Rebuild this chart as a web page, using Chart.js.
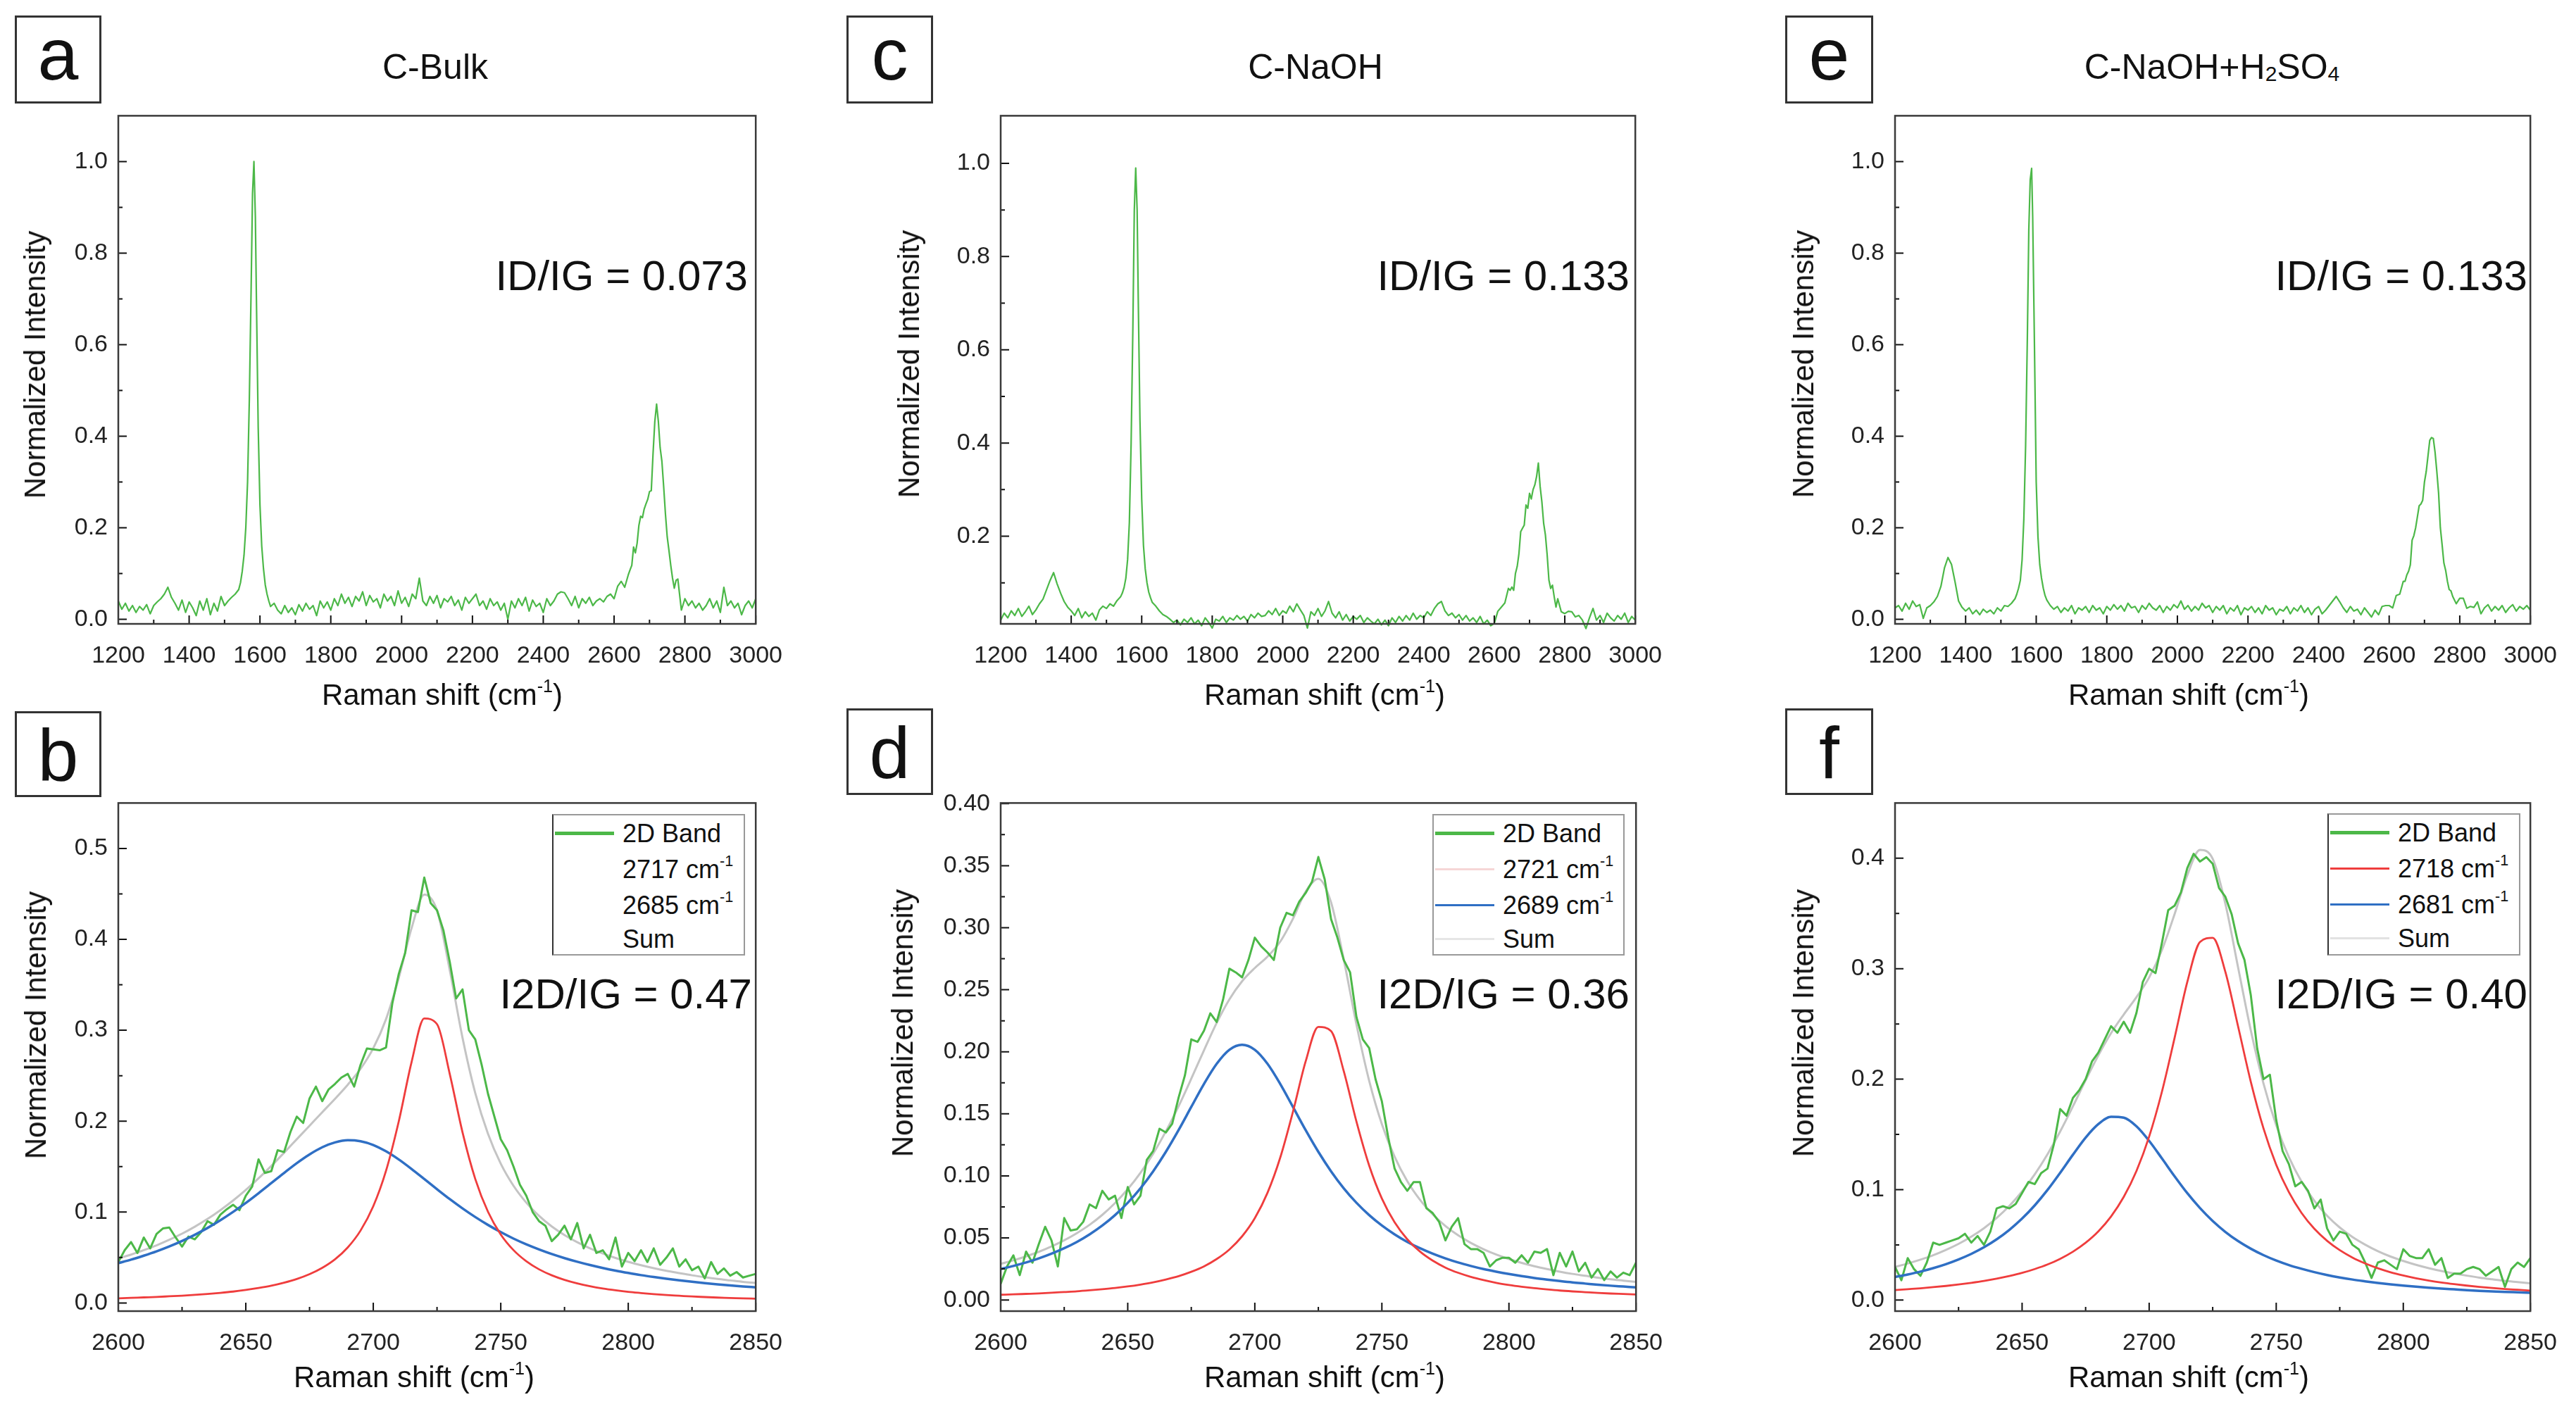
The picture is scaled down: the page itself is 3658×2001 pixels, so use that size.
<!DOCTYPE html>
<html>
<head>
<meta charset="utf-8">
<title>Raman spectra of carbon samples</title>
<script src="https://cdn.jsdelivr.net/npm/chart.js"></script>
<style>
  html, body { margin: 0; background: #fff; }
  #fig { position: relative; width: 3658px; height: 2001px; overflow: hidden;
         font-family: 'Liberation Sans', Arial, sans-serif; color: #111; }
  #fig canvas { position: absolute; }
  .txt { position: absolute; white-space: nowrap; line-height: 1; }
  .ytitle { position: absolute; white-space: nowrap; line-height: 1; transform: translate(-50%, -50%) rotate(-90deg); }
  .box { position: absolute; border: 3px solid #333; box-sizing: border-box; }
  .legend { position: absolute; background: #fff; box-sizing: border-box; border: 2px solid #999; }
  .swatch { position: absolute; }
  .sup { font-size: 0.6em; position: relative; top: -0.75em; }
  .sub { font-size: 0.6em; position: relative; top: 0.12em; }
</style>
</head>
<body>
<div id="fig"></div>
<script>
// ---- data ----
const sampleNames = ['C-Bulk', 'C-NaOH', 'C-NaOH+H<span class="sub">2</span>SO<span class="sub">4</span>'];
const idIgRatio = ['0.073', '0.133', '0.133'];
const i2dIgRatio = ['0.47', '0.36', '0.40'];
const fitPeaksBulk = [2717, 2685];
const fitPeaksNaoh = [2721, 2689];
const fitPeaksAcid = [2718, 2681];

// full spectra (Raman shift, cm-1)
const topShift = [
  1200,1210,1220,1230,1240,1250,1260,1270,1280,1290,
  1300,1310,1320,1330,1340,1350,1360,1370,1380,1390,
  1400,1410,1420,1430,1440,1450,1460,1470,1480,1490,
  1500,1510,1520,1530,1540,
  1545,1550,1555,1560,1565,1570,1575,
  1579,1583,1587,
  1590,1595,1600,1605,1610,1615,1620,1625,1630,
  1640,1650,1660,1670,1680,1690,1700,1710,1720,1730,
  1740,1750,1760,1770,1780,1790,1800,1810,1820,1830,
  1840,1850,1860,1870,1880,1890,1900,1910,1920,1930,
  1940,1950,1960,1970,1980,1990,2000,2010,2020,2030,
  2040,2050,2060,2070,2080,2090,2100,2110,2120,2130,
  2140,2150,2160,2170,2180,2190,2200,2210,2220,2230,
  2240,2250,2260,2270,2280,2290,2300,2310,2320,2330,
  2340,2350,2360,2370,2380,2390,2400,2410,2420,2430,
  2440,2450,2460,2470,2480,2490,2500,2510,2520,2530,
  2540,2550,2560,2570,2580,2590,2600,2610,2620,2630,
  2640,2645,2650,2655,2660,2665,2670,2675,2680,2685,
  2690,2695,2700,2705,2710,2715,2720,2725,2730,2735,
  2740,2745,2750,2755,2760,2765,2770,2775,2780,
  2790,2800,2810,2820,2830,2840,2850,2860,2870,2880,
  2890,2900,2910,2920,2930,2940,2950,2960,2970,2980,
  2990,3000
];
const bulkSpectrum = [
  0.040,0.022,0.035,0.018,0.030,0.015,0.028,0.020,0.032,0.012,
  0.030,0.038,0.045,0.055,0.070,0.048,0.035,0.020,0.042,0.015,
  0.038,0.025,0.008,0.040,0.020,0.045,0.010,0.035,0.018,0.050,
  0.030,0.040,0.048,0.055,0.065,
  0.080,0.105,0.140,0.200,0.300,0.480,0.720,
  0.930,1.000,0.880,
  0.700,0.420,0.250,0.160,0.110,0.075,0.055,0.040,0.028,
  0.035,0.020,0.012,0.030,0.015,0.025,0.010,0.032,0.018,0.035,
  0.022,0.030,0.008,0.040,0.025,0.038,0.020,0.045,0.030,0.055,
  0.035,0.048,0.028,0.050,0.040,0.060,0.030,0.052,0.038,0.045,
  0.025,0.055,0.040,0.050,0.030,0.062,0.035,0.048,0.028,0.055,
  0.045,0.090,0.040,0.030,0.050,0.035,0.052,0.025,0.045,0.038,
  0.050,0.030,0.042,0.020,0.048,0.035,0.045,0.055,0.030,0.040,
  0.022,0.045,0.030,0.038,0.020,0.035,0.000,0.040,0.025,0.045,
  0.030,0.048,0.018,0.042,0.028,0.035,0.015,0.045,0.030,0.040,
  0.055,0.060,0.058,0.045,0.030,0.050,0.025,0.045,0.035,0.048,
  0.030,0.040,0.045,0.038,0.050,0.055,0.045,0.072,0.083,0.070,
  0.097,0.108,0.118,0.158,0.145,0.166,0.205,0.225,0.222,0.241,
  0.252,0.262,0.279,0.281,0.362,0.432,0.470,0.432,0.375,0.345,
  0.290,0.230,0.180,0.150,0.118,0.090,0.068,0.085,0.088,
  0.020,0.045,0.030,0.040,0.025,0.035,0.020,0.030,0.045,0.025,
  0.040,0.015,0.070,0.030,0.040,0.025,0.035,0.010,0.030,0.040,
  0.025,0.045
];
const naohSpectrum = [
  0.020,0.035,0.025,0.040,0.030,0.045,0.028,0.038,0.050,0.032,
  0.042,0.055,0.065,0.085,0.105,0.122,0.098,0.078,0.060,0.048,
  0.040,0.030,0.045,0.025,0.038,0.028,0.035,0.020,0.042,0.050,
  0.045,0.055,0.050,0.062,0.070,
  0.078,0.090,0.110,0.150,0.230,0.400,0.650,
  0.900,0.990,0.900,
  0.720,0.450,0.280,0.180,0.130,0.100,0.080,0.068,0.058,
  0.050,0.040,0.032,0.028,0.022,0.015,0.020,0.010,0.022,0.015,
  0.025,0.012,0.020,0.008,0.025,0.015,0.003,0.022,0.018,0.028,
  0.015,0.025,0.020,0.030,0.022,0.028,0.018,0.032,0.025,0.035,
  0.028,0.030,0.040,0.032,0.045,0.030,0.040,0.035,0.050,0.038,
  0.055,0.042,0.030,0.003,0.038,0.030,0.045,0.028,0.040,0.060,
  0.035,0.025,0.038,0.020,0.032,0.018,0.028,0.022,0.030,0.015,
  0.025,0.018,0.012,0.022,0.010,0.020,0.008,0.025,0.015,0.028,
  0.018,0.030,0.020,0.035,0.022,0.030,0.025,0.038,0.030,0.045,
  0.055,0.060,0.040,0.030,0.035,0.025,0.032,0.020,0.030,0.018,
  0.025,0.015,0.028,0.012,0.020,0.008,0.013,0.039,0.048,0.057,
  0.088,0.084,0.091,0.084,0.120,0.135,0.163,0.210,0.217,0.224,
  0.267,0.260,0.292,0.280,0.300,0.310,0.328,0.357,0.307,0.274,
  0.228,0.203,0.160,0.106,0.088,0.095,0.070,0.048,0.066,
  0.038,0.034,0.039,0.038,0.027,0.030,0.020,0.002,0.025,0.045,
  0.020,0.030,0.015,0.035,0.025,0.018,0.030,0.022,0.035,0.015,
  0.028,0.020
];
const acidSpectrum = [
  0.025,0.030,0.018,0.035,0.022,0.040,0.028,0.032,0.002,0.025,
  0.030,0.038,0.050,0.072,0.112,0.135,0.120,0.082,0.040,0.026,
  0.018,0.025,0.012,0.020,0.010,0.022,0.015,0.020,0.012,0.025,
  0.018,0.030,0.028,0.035,0.045,
  0.055,0.068,0.085,0.130,0.220,0.380,0.620,
  0.850,0.960,0.985,
  0.880,0.600,0.300,0.180,0.120,0.090,0.068,0.052,0.042,
  0.030,0.022,0.028,0.015,0.025,0.018,0.030,0.012,0.025,0.020,
  0.028,0.015,0.030,0.020,0.025,0.012,0.028,0.020,0.032,0.022,
  0.030,0.018,0.035,0.025,0.028,0.015,0.030,0.022,0.035,0.025,
  0.020,0.030,0.015,0.028,0.020,0.032,0.025,0.040,0.022,0.030,
  0.018,0.028,0.020,0.035,0.025,0.030,0.015,0.028,0.020,0.030,
  0.012,0.025,0.018,0.030,0.010,0.025,0.020,0.028,0.015,0.025,
  0.012,0.030,0.020,0.025,0.010,0.022,0.018,0.028,0.012,0.025,
  0.018,0.030,0.015,0.025,0.010,0.022,0.028,0.012,0.020,0.030,
  0.040,0.050,0.038,0.025,0.015,0.028,0.018,0.022,0.010,0.025,
  0.015,0.005,0.020,0.010,0.028,0.030,0.030,0.025,0.052,0.055,
  0.083,0.083,0.097,0.105,0.119,0.173,0.183,0.200,0.224,0.248,
  0.252,0.260,0.300,0.323,0.357,0.391,0.397,0.395,0.365,0.323,
  0.276,0.200,0.163,0.123,0.107,0.083,0.065,0.062,0.050,
  0.034,0.046,0.046,0.024,0.028,0.026,0.038,0.012,0.025,0.032,
  0.018,0.028,0.020,0.030,0.015,0.025,0.032,0.018,0.028,0.022,
  0.030,0.020
];

// 2D band close-up, measured
const bandShift = [
  2600,2602.5,2605,2607.5,2610,2612.5,2615,2617.5,2620,2622.5,
  2625,2627.5,2630,2632.5,2635,2637.5,2640,2642.5,2645,2647.5,
  2650,2652.5,2655,2657.5,2660,2662.5,2665,2667.5,2670,2672.5,
  2675,2677.5,2680,2682.5,2685,2687.5,2690,2692.5,2695,2697.5,
  2700,2702.5,2705,2707.5,2710,2712.5,2715,2717.5,2720,2722.5,
  2725,2727.5,2730,2732.5,2735,2737.5,2740,2742.5,2745,2747.5,
  2750,2752.5,2755,2757.5,2760,2762.5,2765,2767.5,2770,2772.5,
  2775,2777.5,2780,2782.5,2785,2787.5,2790,2792.5,2795,2797.5,
  2800,2802.5,2805,2807.5,2810,2812.5,2815,2817.5,2820,2822.5,
  2825,2827.5,2830,2832.5,2835,2837.5,2840,2842.5,2845,2847.5,
  2850
];
const bulkBand = [
  0.045,0.058,0.067,0.055,0.072,0.060,0.076,0.082,0.083,0.072,
  0.062,0.073,0.070,0.078,0.090,0.086,0.097,0.103,0.108,0.102,
  0.118,0.128,0.158,0.143,0.145,0.168,0.166,0.188,0.205,0.198,
  0.225,0.238,0.222,0.235,0.241,0.248,0.252,0.238,0.262,0.280,
  0.279,0.278,0.281,0.330,0.362,0.385,0.432,0.430,0.468,0.440,
  0.432,0.410,0.375,0.335,0.345,0.300,0.290,0.262,0.230,0.205,
  0.180,0.168,0.150,0.130,0.118,0.100,0.090,0.085,0.068,0.075,
  0.085,0.070,0.088,0.060,0.075,0.055,0.058,0.048,0.072,0.040,
  0.055,0.046,0.058,0.045,0.060,0.042,0.050,0.060,0.040,0.048,
  0.036,0.040,0.027,0.045,0.032,0.038,0.030,0.034,0.028,0.030,
  0.032
];
const naohBand = [
  0.013,0.027,0.036,0.020,0.039,0.030,0.045,0.059,0.048,0.027,
  0.066,0.056,0.057,0.063,0.077,0.074,0.088,0.081,0.084,0.066,
  0.091,0.077,0.084,0.113,0.120,0.138,0.135,0.142,0.163,0.181,
  0.210,0.208,0.217,0.231,0.224,0.242,0.267,0.264,0.260,0.274,
  0.292,0.285,0.280,0.274,0.300,0.312,0.310,0.321,0.328,0.337,
  0.357,0.339,0.307,0.292,0.274,0.264,0.228,0.210,0.203,0.178,
  0.160,0.131,0.106,0.095,0.088,0.095,0.095,0.074,0.070,0.063,
  0.048,0.059,0.066,0.045,0.041,0.041,0.038,0.027,0.032,0.034,
  0.034,0.030,0.036,0.030,0.039,0.038,0.041,0.020,0.038,0.027,
  0.039,0.023,0.030,0.018,0.025,0.016,0.023,0.018,0.022,0.020,
  0.030
];
const acidBand = [
  0.030,0.018,0.038,0.028,0.022,0.034,0.052,0.050,0.052,0.054,
  0.056,0.060,0.052,0.058,0.050,0.062,0.083,0.085,0.083,0.087,
  0.097,0.107,0.105,0.115,0.119,0.141,0.173,0.167,0.183,0.190,
  0.200,0.216,0.224,0.236,0.248,0.242,0.252,0.242,0.260,0.288,
  0.300,0.296,0.323,0.353,0.357,0.369,0.391,0.404,0.397,0.401,
  0.395,0.373,0.365,0.349,0.323,0.308,0.276,0.228,0.200,0.204,
  0.163,0.135,0.123,0.103,0.107,0.099,0.083,0.091,0.065,0.054,
  0.062,0.060,0.050,0.046,0.034,0.020,0.034,0.036,0.032,0.028,
  0.046,0.040,0.038,0.038,0.046,0.032,0.038,0.020,0.024,0.024,
  0.028,0.030,0.028,0.022,0.026,0.030,0.012,0.028,0.034,0.030,
  0.038
];

// fitted components, read at 5 cm-1 steps
const fitShift = [
  2600,2605,2610,2615,2620,2625,2630,2635,2640,2645,
  2650,2655,2660,2665,2670,2675,2680,2685,2690,2695,
  2700,2705,2710,2715,2720,2725,2730,2735,2740,2745,
  2750,2755,2760,2765,2770,2775,2780,2785,2790,2795,
  2800,2805,2810,2815,2820,2825,2830,2835,2840,2845,
  2850
];
const bulkFitHigh = [
  0.0051,0.0056,0.0061,0.0066,0.0073,0.0080,0.0089,0.0099,0.0111,0.0125,
  0.0143,0.0164,0.0189,0.0222,0.0263,0.0316,0.0386,0.0480,0.0611,0.0796,
  0.1064,0.1454,0.1998,0.2648,0.3129,0.3067,0.2518,0.1877,0.1364,0.1002,
  0.0753,0.0581,0.0459,0.0370,0.0304,0.0254,0.0215,0.0184,0.0159,0.0139,
  0.0122,0.0109,0.0097,0.0087,0.0079,0.0071,0.0065,0.0059,0.0055,0.0050,
  0.0047
];
const bulkFitLow = [
  0.0438,0.0476,0.0520,0.0568,0.0622,0.0682,0.0750,0.0825,0.0909,0.1001,
  0.1100,0.1207,0.1318,0.1430,0.1538,0.1634,0.1713,0.1766,0.1790,0.1779,
  0.1738,0.1668,0.1578,0.1474,0.1363,0.1251,0.1142,0.1040,0.0945,0.0858,
  0.0779,0.0708,0.0645,0.0589,0.0538,0.0493,0.0453,0.0417,0.0385,0.0356,
  0.0330,0.0306,0.0285,0.0266,0.0249,0.0233,0.0218,0.0205,0.0193,0.0182,
  0.0172
];
const bulkFitSum = [
  0.0489,0.0532,0.0581,0.0634,0.0695,0.0762,0.0839,0.0924,0.1020,0.1126,
  0.1243,0.1371,0.1507,0.1652,0.1801,0.1950,0.2099,0.2246,0.2401,0.2575,
  0.2802,0.3122,0.3576,0.4122,0.4492,0.4318,0.3660,0.2917,0.2309,0.1860,
  0.1532,0.1289,0.1104,0.0959,0.0842,0.0747,0.0668,0.0601,0.0544,0.0495,
  0.0452,0.0415,0.0382,0.0353,0.0328,0.0304,0.0283,0.0264,0.0248,0.0232,
  0.0219
];
const naohFitHigh = [
  0.0042,0.0045,0.0049,0.0053,0.0058,0.0064,0.0070,0.0078,0.0087,0.0097,
  0.0109,0.0124,0.0142,0.0165,0.0192,0.0227,0.0271,0.0330,0.0407,0.0513,
  0.0659,0.0864,0.1147,0.1516,0.1922,0.2201,0.2167,0.1844,0.1437,0.1083,
  0.0817,0.0626,0.0489,0.0390,0.0317,0.0261,0.0219,0.0186,0.0160,0.0138,
  0.0121,0.0107,0.0095,0.0085,0.0076,0.0069,0.0063,0.0057,0.0052,0.0048,
  0.0044
];
const naohFitLow = [
  0.0249,0.0274,0.0302,0.0335,0.0373,0.0417,0.0468,0.0529,0.0600,0.0684,
  0.0783,0.0900,0.1037,0.1194,0.1369,0.1556,0.1741,0.1903,0.2016,0.2056,
  0.2016,0.1903,0.1741,0.1556,0.1369,0.1194,0.1037,0.0900,0.0783,0.0684,
  0.0600,0.0529,0.0468,0.0417,0.0373,0.0335,0.0302,0.0274,0.0249,0.0228,
  0.0209,0.0192,0.0177,0.0164,0.0152,0.0141,0.0132,0.0123,0.0115,0.0108,
  0.0101
];
const naohFitSum = [
  0.0291,0.0319,0.0351,0.0388,0.0431,0.0481,0.0539,0.0606,0.0686,0.0781,
  0.0893,0.1025,0.1179,0.1359,0.1561,0.1783,0.2012,0.2233,0.2423,0.2569,
  0.2675,0.2767,0.2888,0.3072,0.3291,0.3395,0.3204,0.2744,0.2220,0.1767,
  0.1417,0.1155,0.0957,0.0807,0.0690,0.0596,0.0521,0.0460,0.0409,0.0366,
  0.0330,0.0299,0.0272,0.0249,0.0228,0.0210,0.0195,0.0180,0.0167,0.0156,
  0.0145
];
const acidFitHigh = [
  0.0091,0.0099,0.0107,0.0117,0.0128,0.0141,0.0156,0.0173,0.0194,0.0218,
  0.0246,0.0281,0.0322,0.0374,0.0438,0.0519,0.0622,0.0757,0.0934,0.1169,
  0.1480,0.1884,0.2373,0.2879,0.3242,0.3279,0.2970,0.2477,0.1976,0.1553,
  0.1225,0.0976,0.0788,0.0646,0.0537,0.0452,0.0385,0.0332,0.0288,0.0252,
  0.0223,0.0198,0.0177,0.0159,0.0144,0.0131,0.0119,0.0109,0.0100,0.0093,
  0.0086
];
const acidFitLow = [
  0.0209,0.0232,0.0258,0.0289,0.0325,0.0368,0.0418,0.0478,0.0550,0.0636,
  0.0738,0.0858,0.0997,0.1153,0.1316,0.1471,0.1593,0.1659,0.1651,0.1573,
  0.1441,0.1283,0.1121,0.0968,0.0833,0.0716,0.0617,0.0534,0.0465,0.0407,
  0.0358,0.0317,0.0283,0.0253,0.0227,0.0205,0.0186,0.0170,0.0155,0.0142,
  0.0131,0.0121,0.0112,0.0104,0.0097,0.0090,0.0084,0.0079,0.0074,0.0070,
  0.0066
];
const acidFitSum = [
  0.0300,0.0331,0.0366,0.0406,0.0454,0.0509,0.0574,0.0651,0.0744,0.0853,
  0.0984,0.1139,0.1320,0.1527,0.1754,0.1990,0.2215,0.2416,0.2585,0.2742,
  0.2921,0.3167,0.3494,0.3847,0.4075,0.3995,0.3587,0.3011,0.2441,0.1960,
  0.1583,0.1293,0.1071,0.0899,0.0764,0.0657,0.0571,0.0502,0.0443,0.0394,
  0.0354,0.0319,0.0289,0.0263,0.0241,0.0221,0.0203,0.0188,0.0174,0.0163,
  0.0152
];

// axis tick values
const topXTicks = [1200,1400,1600,1800,2000,2200,2400,2600,2800,3000];
const topXMinor = [1300,1500,1700,1900,2100,2300,2500,2700,2900];
const bandXTicks = [2600,2650,2700,2750,2800,2850];
const bandXMinor = [2625,2675,2725,2775,2825];
const topYTicks = [0.0,0.2,0.4,0.6,0.8,1.0];
const naohTopYTicks = [0.2,0.4,0.6,0.8,1.0];
const topYMinor = [0.1,0.3,0.5,0.7,0.9];
const bulkBandYTicks = [0.0,0.1,0.2,0.3,0.4,0.5];
const bulkBandYMinor = [0.05,0.15,0.25,0.35,0.45];
const naohBandYTicks = [0.00,0.05,0.10,0.15,0.20,0.25,0.30,0.35,0.40];
const naohBandYMinor = [0.025,0.075,0.125,0.175,0.225,0.275,0.325,0.375];
const acidBandYTicks = [0.0,0.1,0.2,0.3,0.4];
const acidBandYMinor = [0.05,0.15,0.25,0.35];

// ---- drawing ----
const GREEN = '#4cb848', RED = '#ef3d3d', BLUE = '#2f6fc4', GREY = '#c4c4c4';
const fig = document.getElementById('fig');

Chart.defaults.font.family = "'Liberation Sans', Arial, sans-serif";
Chart.defaults.font.size = 34;
Chart.defaults.color = '#222';

// inward tick marks on bottom/left plus the closed frame
const inwardTicks = {
  id: 'inwardTicks',
  afterDraw(chart, args, o) {
    const { ctx, chartArea: a, scales: { x, y } } = chart;
    ctx.save();
    ctx.strokeStyle = '#111';
    ctx.lineWidth = 2;
    ctx.beginPath();
    o.xMajor.forEach(v => { const p = x.getPixelForValue(v); ctx.moveTo(p, a.bottom); ctx.lineTo(p, a.bottom - 12); });
    o.xMinor.forEach(v => { const p = x.getPixelForValue(v); ctx.moveTo(p, a.bottom); ctx.lineTo(p, a.bottom - 6); });
    o.yMajor.forEach(v => { const p = y.getPixelForValue(v); ctx.moveTo(a.left, p); ctx.lineTo(a.left + 12, p); });
    o.yMinor.forEach(v => { const p = y.getPixelForValue(v); ctx.moveTo(a.left, p); ctx.lineTo(a.left + 6, p); });
    ctx.stroke();
    ctx.strokeStyle = '#3a3a3a';
    ctx.lineWidth = 2.5;
    ctx.strokeRect(a.left, a.top, a.width, a.height);
    ctx.restore();
  }
};

function pairs(xs, ys) {
  return xs.map((x, i) => ({ x: x, y: ys[i] }));
}

function trace(xs, ys, color, width, smooth) {
  return {
    data: pairs(xs, ys),
    borderColor: color,
    borderWidth: width,
    pointRadius: 0,
    fill: false,
    tension: 0,
    cubicInterpolationMode: smooth ? 'monotone' : 'default',
    borderJoinStyle: 'round'
  };
}

function makePanel(p, datasets, xs, ys) {
  const padTop = 20, yBox = 150, padRight = 50, xBox = 80;
  const c = document.createElement('canvas');
  c.width = yBox + p.W + padRight;
  c.height = padTop + p.H + xBox;
  c.style.left = (p.L - yBox) + 'px';
  c.style.top = (p.T - padTop) + 'px';
  fig.appendChild(c);
  return new Chart(c, {
    type: 'line',
    data: { datasets: datasets },
    options: {
      responsive: false,
      animation: false,
      events: [],
      layout: { padding: { top: padTop, right: padRight, left: 0, bottom: 0 } },
      plugins: {
        legend: { display: false },
        tooltip: { enabled: false },
        inwardTicks: { xMajor: xs.ticks, xMinor: xs.minor, yMajor: ys.ticks, yMinor: ys.minor }
      },
      scales: {
        x: {
          type: 'linear', min: xs.min, max: xs.max,
          grid: { display: false }, border: { display: false },
          afterBuildTicks: s => { s.ticks = xs.ticks.map(v => ({ value: v })); },
          afterFit: s => { s.height = xBox; },
          ticks: { padding: 17, autoSkip: false, maxRotation: 0, minRotation: 0, callback: v => String(v) }
        },
        y: {
          type: 'linear', min: ys.min, max: ys.max,
          grid: { display: false }, border: { display: false },
          afterBuildTicks: s => { s.ticks = ys.ticks.map(v => ({ value: v })); },
          afterFit: s => { s.width = yBox; },
          ticks: { padding: 7, autoSkip: false, callback: v => v.toFixed(ys.dec) }
        }
      }
    },
    plugins: [inwardTicks]
  });
}

const topX = { min: 1200, max: 3000, ticks: topXTicks, minor: topXMinor };
const bandX = { min: 2600, max: 2850, ticks: bandXTicks, minor: bandXMinor };

function topLine(ys) {
  const d = trace(topShift, ys, GREEN, 2.2, false);
  d.clip = false;
  return d;
}
function bandSet(band, high, low, sum) {
  return [
    trace(fitShift, high, RED, 2.8, true),
    trace(fitShift, low, BLUE, 3.5, true),
    trace(bandShift, band, GREEN, 3, false),
    trace(fitShift, sum, GREY, 3, true)
  ];
}

makePanel({ L: 168, T: 157, W: 910, H: 729 }, [topLine(bulkSpectrum)], topX,
  { min: -0.01, max: 1.1, ticks: topYTicks, minor: topYMinor, dec: 1 });
makePanel({ L: 168, T: 1133, W: 910, H: 729 }, bandSet(bulkBand, bulkFitHigh, bulkFitLow, bulkFitSum), bandX,
  { min: -0.009, max: 0.55, ticks: bulkBandYTicks, minor: bulkBandYMinor, dec: 1 });
makePanel({ L: 1421, T: 157, W: 906, H: 729 }, [topLine(naohSpectrum)], topX,
  { min: 0.012, max: 1.102, ticks: naohTopYTicks, minor: topYMinor, dec: 1 });
makePanel({ L: 1421, T: 1133, W: 907, H: 729 }, bandSet(naohBand, naohFitHigh, naohFitLow, naohFitSum), bandX,
  { min: -0.009, max: 0.4005, ticks: naohBandYTicks, minor: naohBandYMinor, dec: 2 });
makePanel({ L: 2691, T: 157, W: 907, H: 729 }, [topLine(acidSpectrum)], topX,
  { min: -0.01, max: 1.1, ticks: topYTicks, minor: topYMinor, dec: 1 });
makePanel({ L: 2691, T: 1133, W: 907, H: 729 }, bandSet(acidBand, acidFitHigh, acidFitLow, acidFitSum), bandX,
  { min: -0.01, max: 0.45, ticks: acidBandYTicks, minor: acidBandYMinor, dec: 1 });

// ---- text (HTML) ----
function addText(html, x, baseline, size, align) {
  const d = document.createElement('div');
  d.className = 'txt';
  d.style.fontSize = size + 'px';
  d.style.left = x + 'px';
  d.style.top = (baseline - 0.8465 * size) + 'px';
  d.style.transform = align === 'center' ? 'translateX(-50%)' : align === 'right' ? 'translateX(-100%)' : 'none';
  d.innerHTML = html;
  fig.appendChild(d);
  return d;
}
function addYTitle(cx, cy) {
  const d = document.createElement('div');
  d.className = 'ytitle';
  d.style.fontSize = '42px';
  d.style.left = cx + 'px';
  d.style.top = cy + 'px';
  d.textContent = 'Normalized Intensity';
  fig.appendChild(d);
}
function addLetterBox(ch, l, t, w, h, baseline) {
  const b = document.createElement('div');
  b.className = 'box';
  Object.assign(b.style, { left: l + 'px', top: t + 'px', width: w + 'px', height: h + 'px' });
  fig.appendChild(b);
  addText(ch, l + w / 2, baseline, 104, 'center');
}
function addLegend(l, t, w, h, labels, colors, leftBorder) {
  const box = document.createElement('div');
  box.className = 'legend';
  Object.assign(box.style, { left: l + 'px', top: t + 'px', width: w + 'px', height: h + 'px' });
  if (leftBorder) box.style.borderLeftColor = leftBorder;
  fig.appendChild(box);
  const rows = [27, 78, 129, 177];
  labels.forEach((lab, i) => {
    const s = document.createElement('div');
    s.className = 'swatch';
    const th = i === 0 ? 5 : 3;
    Object.assign(s.style, { left: (l + 4) + 'px', top: (t + rows[i] - th / 2) + 'px', width: '84px', height: th + 'px', background: colors[i] });
    fig.appendChild(s);
    addText(lab, l + 100, t + rows[i] + 13, 36, 'left');
  });
}
const cm = ' cm<span class="sup">-1</span>';
const xTitle = 'Raman shift (cm<span class="sup">-1</span>)';

// panel letters
addLetterBox('a', 21, 22, 123, 125, 113);
addLetterBox('b', 21, 1010, 123, 122, 1108);
addLetterBox('c', 1202, 22, 123, 125, 113);
addLetterBox('d', 1202, 1006, 123, 123, 1105);
addLetterBox('e', 2535, 22, 125, 125, 113);
addLetterBox('f', 2535, 1006, 125, 123, 1105);

// sample titles
addText(sampleNames[0], 618, 112, 50, 'center');
addText(sampleNames[1], 1868, 112, 50, 'center');
addText(sampleNames[2], 3141, 112, 50, 'center');

// ratios
addText('ID/IG = ' + idIgRatio[0], 1062, 413, 60, 'right');
addText('ID/IG = ' + idIgRatio[1], 2314, 413, 60, 'right');
addText('ID/IG = ' + idIgRatio[2], 3589, 413, 60, 'right');
addText('I2D/IG = ' + i2dIgRatio[0], 1068, 1433, 60, 'right');
addText('I2D/IG = ' + i2dIgRatio[1], 2314, 1433, 60, 'right');
addText('I2D/IG = ' + i2dIgRatio[2], 3589, 1433, 60, 'right');

// axis titles
addText(xTitle, 628, 1002, 42, 'center');
addText(xTitle, 1881, 1002, 42, 'center');
addText(xTitle, 3108, 1002, 42, 'center');
addText(xTitle, 588, 1971, 42, 'center');
addText(xTitle, 1881, 1971, 42, 'center');
addText(xTitle, 3108, 1971, 42, 'center');
addYTitle(50, 518);
addYTitle(51, 1456);
addYTitle(1291, 517);
addYTitle(1282, 1453);
addYTitle(2561, 517);
addYTitle(2561, 1453);

// legends
addLegend(784, 1156, 274, 201,
  ['2D Band', fitPeaksBulk[0] + cm, fitPeaksBulk[1] + cm, 'Sum'],
  [GREEN, 'transparent', 'transparent', 'transparent'], '#333');
addLegend(2034, 1156, 273, 201,
  ['2D Band', fitPeaksNaoh[0] + cm, fitPeaksNaoh[1] + cm, 'Sum'],
  [GREEN, '#f6d6d6', BLUE, '#e6e6e6'], null);
addLegend(3305, 1155, 274, 202,
  ['2D Band', fitPeaksAcid[0] + cm, fitPeaksAcid[1] + cm, 'Sum'],
  [GREEN, RED, BLUE, '#e2e2e2'], '#333');
</script>
</body>
</html>
